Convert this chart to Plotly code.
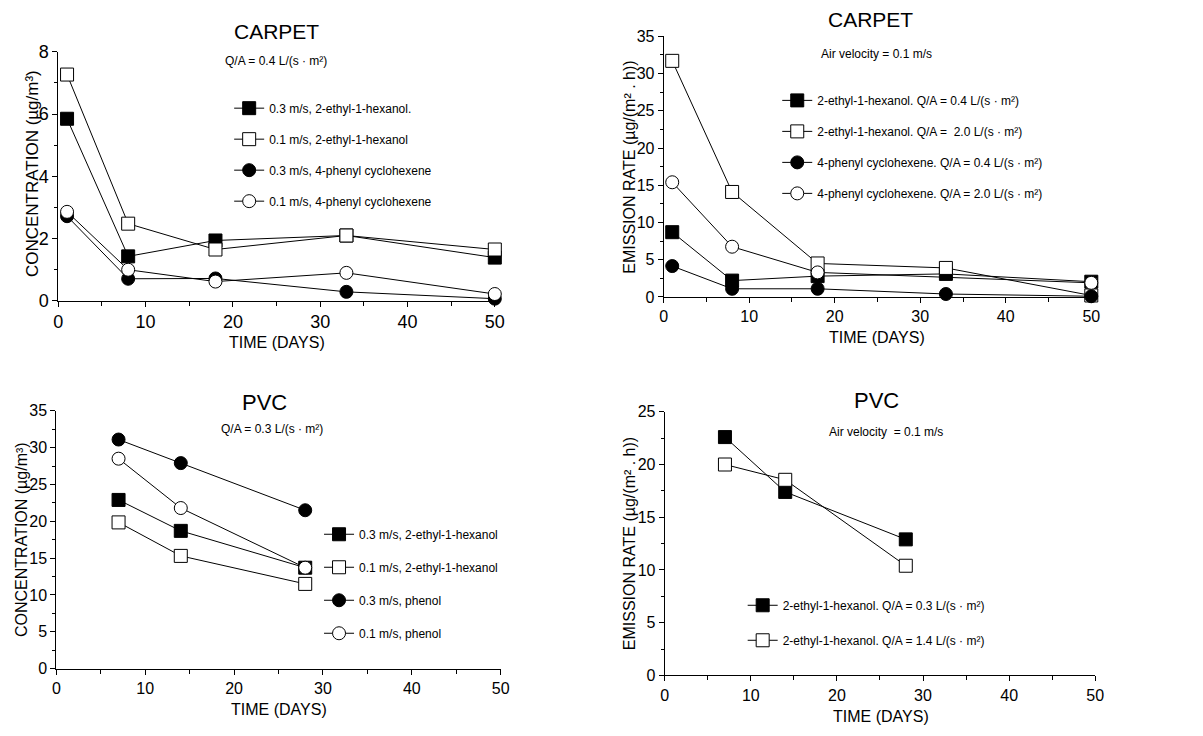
import plotly.graph_objects as go

# ---------------- data ----------------
# Panel 1: CARPET concentration
days_carpet = [1, 8, 18, 33, 50]
conc_c_03_2e1h = [5.85, 1.43, 1.94, 2.10, 1.39]
conc_c_01_2e1h = [7.27, 2.48, 1.65, 2.10, 1.65]
conc_c_03_4pch = [2.72, 0.71, 0.72, 0.29, 0.07]
conc_c_01_4pch = [2.86, 1.00, 0.62, 0.90, 0.22]
labels_p1 = ["0.3 m/s, 2-ethyl-1-hexanol.", "0.1 m/s, 2-ethyl-1-hexanol",
             "0.3 m/s, 4-phenyl cyclohexene", "0.1 m/s, 4-phenyl cyclohexene"]

# Panel 2: CARPET emission rate
er_c_04_2e1h = [8.7, 2.2, 2.8, 3.1, 2.05]
er_c_20_2e1h = [31.7, 14.1, 4.5, 3.9, 0.2]
er_c_04_4pch = [4.15, 1.1, 1.1, 0.4, 0.1]
er_c_20_4pch = [15.4, 6.75, 3.3, None, 1.9]
labels_p2 = ["2-ethyl-1-hexanol. Q/A = 0.4 L/(s · m²)", "2-ethyl-1-hexanol. Q/A =  2.0 L/(s · m²)",
             "4-phenyl cyclohexene. Q/A = 0.4 L/(s · m²)", "4-phenyl cyclohexene. Q/A = 2.0 L/(s · m²)"]

# Panel 3: PVC concentration
days_pvc = [7, 14, 28]
conc_p_03_2e1h = [22.9, 18.7, 13.7]
conc_p_01_2e1h = [19.85, 15.3, 11.5]
conc_p_03_phen = [31.1, 27.9, 21.5]
conc_p_01_phen = [28.5, 21.8, 13.7]
labels_p3 = ["0.3 m/s, 2-ethyl-1-hexanol", "0.1 m/s, 2-ethyl-1-hexanol",
             "0.3 m/s, phenol", "0.1 m/s, phenol"]

# Panel 4: PVC emission rate
er_p_03 = [22.6, 17.4, 12.9]
er_p_14 = [20.0, 18.55, 10.4]
labels_p4 = ["2-ethyl-1-hexanol. Q/A = 0.3 L/(s · m²)", "2-ethyl-1-hexanol. Q/A = 1.4 L/(s · m²)"]

W, H = 1203, 736
FONT = "Liberation Sans, Arial, sans-serif"

def px_x(p):
    return p / W

def px_y(p):
    return 1 - p / H

fig = go.Figure()

styles = [("square", "black"), ("square", "white"), ("circle", "black"), ("circle", "white")]

def add_series(xs, ys, style, name, xa, ya, legend, grp):
    sym, fill = style
    fig.add_trace(go.Scatter(
        x=xs, y=ys, mode="lines+markers", name=name,
        xaxis=xa, yaxis=ya, legend=legend, legendgroup=grp,
        connectgaps=True, cliponaxis=False,
        line=dict(color="black", width=1),
        marker=dict(symbol=sym, size=13, color=fill, line=dict(color="black", width=1)),
    ))

for i, (ys, lab) in enumerate(zip([conc_c_03_2e1h, conc_c_01_2e1h, conc_c_03_4pch, conc_c_01_4pch], labels_p1)):
    add_series(days_carpet, ys, styles[i], lab, "x", "y", "legend", f"a{i}")
for i, (ys, lab) in enumerate(zip([er_c_04_2e1h, er_c_20_2e1h, er_c_04_4pch, er_c_20_4pch], labels_p2)):
    add_series(days_carpet, ys, styles[i], lab, "x2", "y2", "legend2", f"b{i}")
for i, (ys, lab) in enumerate(zip([conc_p_03_2e1h, conc_p_01_2e1h, conc_p_03_phen, conc_p_01_phen], labels_p3)):
    add_series(days_pvc, ys, styles[i], lab, "x3", "y3", "legend3", f"c{i}")
for i, (ys, lab) in enumerate(zip([er_p_03, er_p_14], labels_p4)):
    add_series(days_pvc, ys, styles[i], lab, "x4", "y4", "legend4", f"d{i}")

def xaxis(dom, anchor, fs):
    return dict(domain=dom, anchor=anchor, range=[0, 50], dtick=10, tick0=0,
                showline=True, linecolor="black", linewidth=1, showgrid=False, zeroline=False,
                ticks="outside", ticklen=5, tickcolor="black",
                minor=dict(dtick=5, ticks="outside", ticklen=4, tickcolor="black"),
                tickfont=dict(family=FONT, size=fs, color="black"), fixedrange=True)

def yaxis(dom, anchor, rng, dt, mdt, fs):
    return dict(domain=dom, anchor=anchor, range=rng, dtick=dt, tick0=0,
                showline=True, linecolor="black", linewidth=1, showgrid=False, zeroline=False,
                ticks="outside", ticklen=5, tickcolor="black",
                minor=dict(dtick=mdt, ticks="outside", ticklen=3, tickcolor="black"),
                tickfont=dict(family=FONT, size=fs, color="black"), fixedrange=True)

p1x = [px_x(54), px_x(496)]; p1y = [px_y(299), px_y(43)]
p2x = [px_x(667), px_x(1100)]; p2y = [px_y(295), px_y(27)]
p3x = [px_x(52), px_x(502)]; p3y = [px_y(677), px_y(412)]
p4x = [px_x(668), px_x(1104)]; p4y = [px_y(684), px_y(413)]

def legend_cfg(cx, top, gap):
    return dict(x=px_x(cx - 20), y=px_y(top), xanchor="left", yanchor="top",
                xref="paper", yref="paper", bgcolor="rgba(0,0,0,0)",
                font=dict(family=FONT, size=12, color="black"),
                traceorder="grouped", tracegroupgap=gap, itemclick=False, itemdoubleclick=False)

fig.update_layout(
    width=W, height=H, margin=dict(l=0, r=0, t=0, b=0),
    paper_bgcolor="white", plot_bgcolor="white",
    font=dict(family=FONT, color="black"),
    xaxis=xaxis(p1x, "y", 18), yaxis=yaxis(p1y, "x", [0, 8], 2, 1, 18),
    xaxis2=xaxis(p2x, "y2", 16), yaxis2=yaxis(p2y, "x2", [0, 35], 5, 2.5, 16),
    xaxis3=xaxis(p3x, "y3", 16), yaxis3=yaxis(p3y, "x3", [0, 35], 5, 2.5, 16),
    xaxis4=xaxis(p4x, "y4", 16), yaxis4=yaxis(p4y, "x4", [0, 25], 5, 2.5, 16),
    legend=legend_cfg(247, 86, 12),
    legend2=legend_cfg(802, 78, 12),
    legend3=legend_cfg(338, 524, 14),
    legend4=legend_cfg(767, 597, 16),
    showlegend=True,
    hovermode=False,
)

def ann(text, x, y, size, angle=0):
    fig.add_annotation(text=text, x=px_x(x), y=px_y(y), xref="paper", yref="paper",
                       showarrow=False, xanchor="center", yanchor="middle", textangle=angle,
                       font=dict(family=FONT, size=size, color="black"))

# titles
ann("CARPET", 275, 22, 21)
ann("CARPET", 876, 10, 21)
ann("PVC", 263, 403, 22)
ann("PVC", 882, 401, 22)
# condition notes
ann("Q/A = 0.4 L/(s · m²)", 274, 52, 12)
ann("Air velocity = 0.1 m/s", 882, 45, 12)
ann("Q/A = 0.3 L/(s · m²)", 270, 431, 12)
ann("Air velocity  = 0.1 m/s", 892, 434, 12)
# axis titles
ann("TIME (DAYS)", 275, 342, 16)
ann("TIME (DAYS)", 883, 337, 16)
ann("TIME (DAYS)", 277, 719, 16)
ann("TIME (DAYS)", 887, 726, 16)
ann("CONCENTRATION (µg/m³)", 28, 168, 17, -90)
ann("EMISSION RATE (µg/(m² . h))", 632, 162, 16, -90)
ann("CONCENTRATION (µg/m³)", 16, 544, 16, -90)
ann("EMISSION RATE (µg/(m² . h))", 632, 549, 16, -90)

fig.write_html("out.html",
               config={"displayModeBar": False, "staticPlot": False},
               post_script="document.body.style.margin='0';document.body.style.overflow='hidden';")
